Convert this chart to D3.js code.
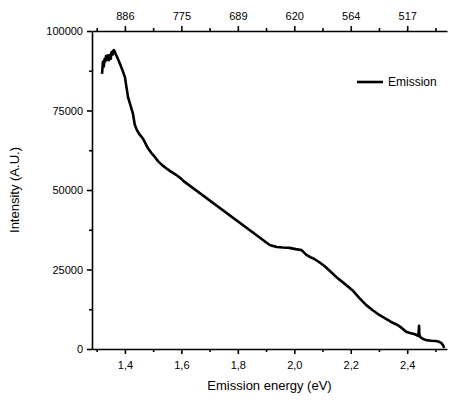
<!DOCTYPE html>
<html><head><meta charset="utf-8">
<script src="https://cdn.jsdelivr.net/npm/d3@7"></script>
<style>body{margin:0;background:#fff}svg{display:block}text{font-family:"Liberation Sans",Arial,sans-serif;fill:#000}</style>
</head><body><svg id="c" width="450" height="400"></svg>
<script>
const energy = [1.319,1.321,1.322,1.325,1.328,1.331,1.333,1.336,1.338,1.340,1.343,1.345,1.347,1.350,1.352,1.354,1.357,1.359,1.361,1.364,1.368,1.375,1.382,1.390,1.400,1.411,1.420,1.428,1.435,1.442,1.453,1.460,1.467,1.474,1.481,1.494,1.506,1.518,1.531,1.545,1.559,1.573,1.587,1.600,1.608,1.913,1.925,1.938,1.960,1.983,2.005,2.026,2.043,2.057,2.071,2.090,2.107,2.130,2.153,2.180,2.206,2.230,2.255,2.278,2.301,2.322,2.343,2.360,2.372,2.385,2.396,2.410,2.425,2.433,2.439,2.441,2.442,2.443,2.446,2.455,2.467,2.485,2.502,2.512,2.520,2.527,2.531];
const intensity = [86500,89000,90300,88800,91200,90500,92100,91000,92300,91500,90800,92400,92100,91300,93200,93400,92600,93800,94000,93600,92600,91300,89800,88000,85500,79200,76500,74200,70500,68900,67300,66600,65700,64400,63200,61600,60400,59000,57900,56900,56000,55200,54400,53500,52800,32700,32400,32100,31900,31800,31400,31100,29600,28900,28300,27200,26100,24200,22300,20400,18500,16100,13800,12200,10700,9600,8500,7800,7200,6300,5400,5000,4700,4400,4100,5800,7300,4600,3800,3200,2800,2600,2500,2300,1900,1200,300];
const bottomTicks = [1.4,1.6,1.8,2.0,2.2,2.4];
const bottomTickLabels = ["1,4","1,6","1,8","2,0","2,2","2,4"];
const topTickLabels = ["886","775","689","620","564","517"];
const minorX = [1.3,1.5,1.7,1.9,2.1,2.3,2.5];
const yTicks = [0,25000,50000,75000,100000];
const minorY = [12500,37500,62500,87500];
const seriesName = "Emission";
const xTitle = "Emission energy (eV)";
const yTitle = "Intensity (A.U.)";

const svg = d3.select("#c");
const L=92,R=447,T=31,B=349;
const x = d3.scaleLinear().domain([1.2834,2.541]).range([L,R]);
const y = d3.scaleLinear().domain([0,100000]).range([B,T]);

function axisStyle(g){g.select(".domain").attr("stroke","#000").attr("stroke-width",1.6);
  g.selectAll(".tick line").attr("stroke","#000").attr("stroke-width",1.6);
  g.selectAll(".tick text").style("font-size","11px");}

// bottom
svg.append("g").attr("transform",`translate(0,${B})`)
  .call(d3.axisBottom(x).tickValues(bottomTicks).tickSize(5).tickSizeOuter(0).tickPadding(7).tickFormat((d,i)=>bottomTickLabels[i]))
  .call(axisStyle);
svg.append("g").attr("transform",`translate(0,${B})`)
  .call(d3.axisBottom(x).tickValues(minorX).tickSize(3).tickSizeOuter(0).tickFormat(""))
  .call(g=>{g.select(".domain").remove();g.selectAll("line").attr("stroke","#000").attr("stroke-width",1.6);});
// top
svg.append("g").attr("transform",`translate(0,${T})`)
  .call(d3.axisTop(x).tickValues(bottomTicks).tickSize(5).tickSizeOuter(0).tickPadding(6).tickFormat((d,i)=>topTickLabels[i]))
  .call(axisStyle);
svg.append("g").attr("transform",`translate(0,${T})`)
  .call(d3.axisTop(x).tickValues(minorX).tickSize(3).tickSizeOuter(0).tickFormat(""))
  .call(g=>{g.select(".domain").remove();g.selectAll("line").attr("stroke","#000").attr("stroke-width",1.6);});
// left
svg.append("g").attr("transform",`translate(${L},0)`)
  .call(d3.axisLeft(y).tickValues(yTicks).tickSize(5).tickSizeOuter(0).tickPadding(4).tickFormat(d3.format("d")))
  .call(axisStyle);
svg.append("g").attr("transform",`translate(${L},0)`)
  .call(d3.axisLeft(y).tickValues(minorY).tickSize(3).tickSizeOuter(0).tickFormat(""))
  .call(g=>{g.select(".domain").remove();g.selectAll("line").attr("stroke","#000").attr("stroke-width",1.6);});

const data = energy.map((e,i)=>[e,intensity[i]]);
svg.append("path").datum(data)
  .attr("fill","none").attr("stroke","#000").attr("stroke-width",2.6).attr("stroke-linejoin","round")
  .attr("d",d3.line().x(d=>x(d[0])).y(d=>y(d[1])));

// legend
svg.append("line").attr("x1",357).attr("x2",383).attr("y1",82).attr("y2",82).attr("stroke","#000").attr("stroke-width",2.6);
svg.append("text").attr("x",388).attr("y",82).attr("dy","0.35em").style("font-size","12px").text(seriesName);

svg.append("text").attr("x",(L+R)/2).attr("y",385).attr("dy","0.35em").attr("text-anchor","middle").style("font-size","13px").text(xTitle);
svg.append("text").attr("transform",`translate(14,${(T+B)/2}) rotate(-90)`).attr("dy","0.35em").attr("text-anchor","middle").style("font-size","13px").text(yTitle);
</script></body></html>
